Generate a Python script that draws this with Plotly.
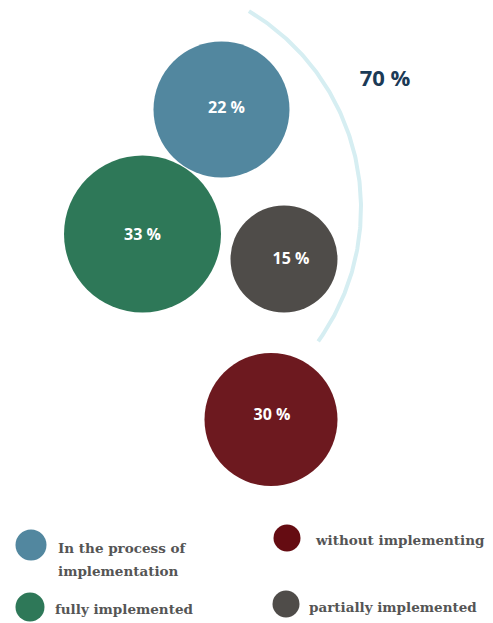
import numpy as np
import plotly.graph_objects as go

# ---- data ----
categories = ["In the process of implementation", "fully implemented",
              "partially implemented", "without implementing"]
values = [22, 33, 15, 30]
total_label = "70 %"

# ---- layout / style (pixel space) ----
colors = ["#52879f", "#2e7858", "#4f4c49", "#6d191f"]
bubble_x = [221.5, 142.5, 284, 271]
bubble_y = [109.5, 234, 259, 419.5]
bubble_d = [136, 157, 107, 133]
label_dx = [5, 0, 7, 1]
label_dy = [-2, 0, -1, -5]

legend_colors = ["#52879f", "#2e7858", "#4f4c49", "#650c12"]
legend_lines = [["In the process of", "implementation"], ["fully implemented"],
                ["partially implemented"], ["without implementing"]]
legend_mx = [31, 30, 286, 287]
legend_my = [545, 607, 604, 538]
legend_md = [31, 29, 27, 27]
legend_tx = [56, 53, 307, 313]
legend_ty = [548, 609, 607, 540]
line_gap = 23

W, H = 493, 623
fig = go.Figure()

# arc decoration
arc_cx, arc_cy, arc_r = 132, 208, 229
theta = np.linspace(np.radians(-59.3), np.radians(35.6), 200)
fig.add_trace(go.Scatter(x=arc_cx + arc_r * np.cos(theta),
                         y=arc_cy + arc_r * np.sin(theta),
                         mode="lines", line=dict(color="#d6eef2", width=4),
                         hoverinfo="skip", showlegend=False))

fig.add_trace(go.Scatter(
    x=bubble_x, y=bubble_y, mode="markers",
    marker=dict(size=bubble_d, color=colors, line=dict(width=0), opacity=1),
    text=categories, hoverinfo="text", showlegend=False))

fig.add_trace(go.Scatter(
    x=[bx + dx for bx, dx in zip(bubble_x, label_dx)],
    y=[by + dy + 1.5 for by, dy in zip(bubble_y, label_dy)],
    mode="text", text=[f"<b>{v} %</b>" for v in values],
    textfont=dict(family="Open Sans", size=16, color="white"),
    hoverinfo="skip", showlegend=False))

fig.add_trace(go.Scatter(
    x=[385], y=[80], mode="text", text=[f"<b>{total_label}</b>"],
    textfont=dict(family="Open Sans", size=22, color="#1b3a56"),
    hoverinfo="skip", showlegend=False))

# legend
fig.add_trace(go.Scatter(
    x=legend_mx, y=legend_my, mode="markers",
    marker=dict(size=legend_md, color=legend_colors, line=dict(width=0), opacity=1),
    hoverinfo="skip", showlegend=False))
for lines, tx, ty in zip(legend_lines, legend_tx, legend_ty):
    for i, t in enumerate(lines):
        fig.add_annotation(x=tx, y=ty + i * line_gap, text=f"<b>{t}</b>", showarrow=False,
                           xanchor="left", yanchor="middle", align="left",
                           font=dict(family="DejaVu Serif", size=13.5, color="#555555"))

fig.update_layout(
    width=W, height=H, margin=dict(l=0, r=0, t=0, b=0),
    paper_bgcolor="white", plot_bgcolor="white",
    xaxis=dict(range=[0, W], visible=False, fixedrange=True),
    yaxis=dict(range=[H, 0], visible=False, fixedrange=True),
)
fig.write_html("out.html")
